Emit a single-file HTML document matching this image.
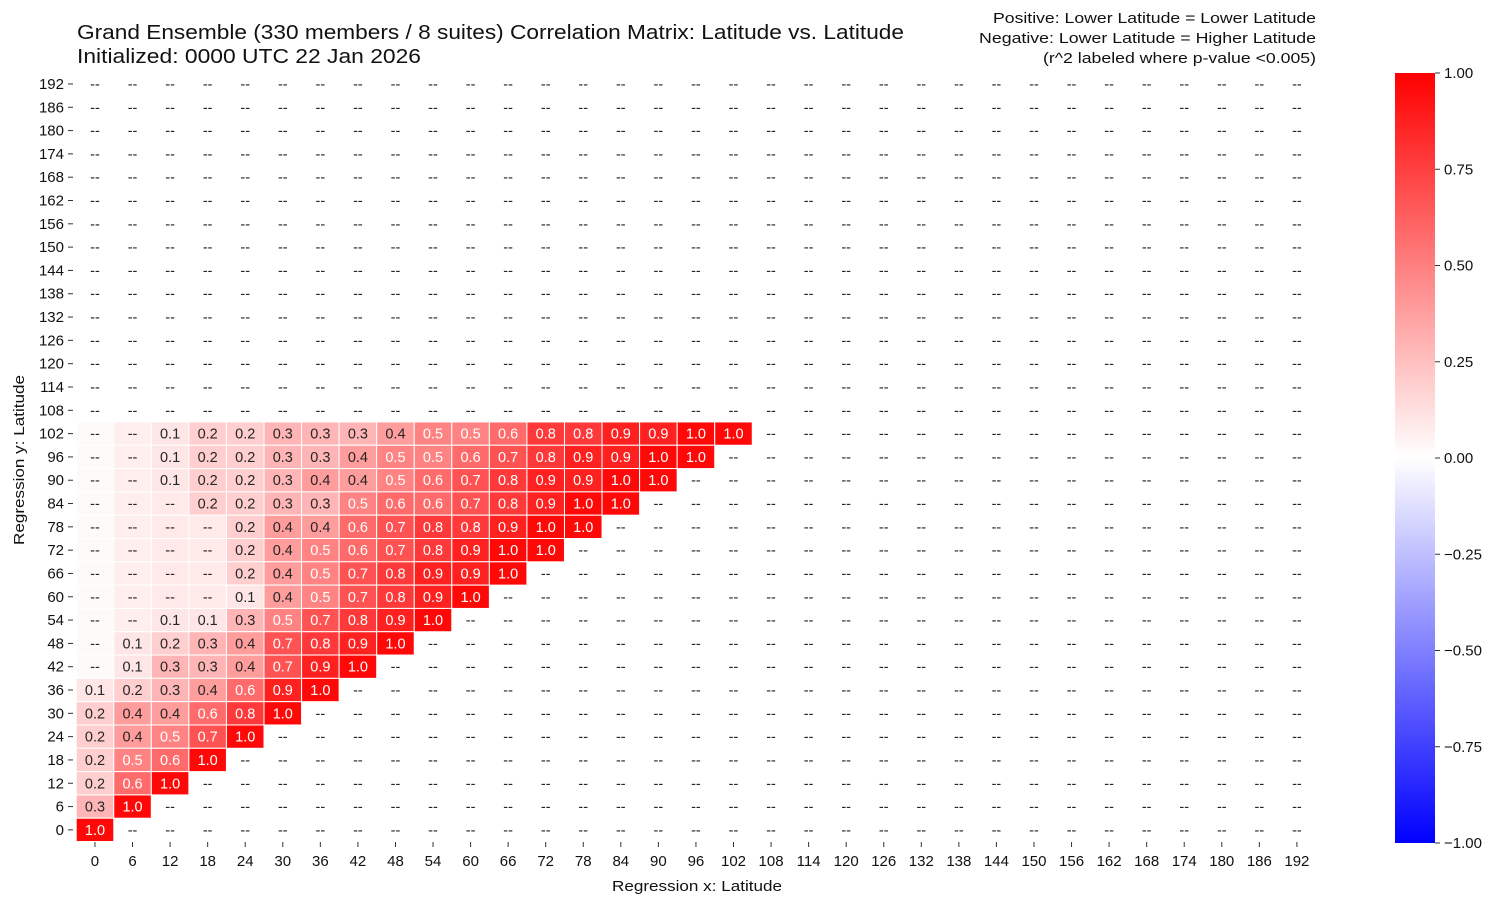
<!DOCTYPE html><html><head><meta charset="utf-8"><style>
body{margin:0;background:#fff;font-family:"Liberation Sans","DejaVu Sans",sans-serif;}
</style></head><body>
<svg id="s" width="1503" height="907" xmlns="http://www.w3.org/2000/svg" font-family="Liberation Sans, DejaVu Sans, sans-serif">
<defs><linearGradient id="g" x1="0" y1="0" x2="0" y2="1">
<stop offset="0" stop-color="#ff0000"/><stop offset="0.5" stop-color="#ffffff"/><stop offset="1" stop-color="#0000ff"/></linearGradient></defs>
<text x="77" y="39" font-size="20" fill="#111" textLength="827" lengthAdjust="spacingAndGlyphs">Grand Ensemble (330 members / 8 suites) Correlation Matrix: Latitude vs. Latitude</text>
<text x="77" y="63" font-size="20" fill="#111" textLength="344" lengthAdjust="spacingAndGlyphs">Initialized: 0000 UTC 22 Jan 2026</text>
<text x="993" y="23" font-size="14.5" fill="#111" textLength="323" lengthAdjust="spacingAndGlyphs">Positive: Lower Latitude = Lower Latitude</text>
<text x="979" y="43" font-size="14.5" fill="#111" textLength="337" lengthAdjust="spacingAndGlyphs">Negative: Lower Latitude = Higher Latitude</text>
<text x="1043" y="63" font-size="14.5" fill="#111" textLength="273" lengthAdjust="spacingAndGlyphs">(r^2 labeled where p-value &lt;0.005)</text>
<g id="cells"></g>
<text x="612" y="891" font-size="14.5" fill="#111" textLength="170" lengthAdjust="spacingAndGlyphs">Regression x: Latitude</text>
<text transform="translate(24,545) rotate(-90)" font-size="14.5" fill="#111" textLength="170" lengthAdjust="spacingAndGlyphs">Regression y: Latitude</text>
<rect x="1395" y="73" width="40" height="770" fill="url(#g)"/>
<g id="cb"></g>
</svg>
<script>
var rows={102:["--","--",.1,.2,.2,.3,.3,.3,.4,.5,.5,.6,.8,.8,.9,.9,1,1],
96:["--","--",.1,.2,.2,.3,.3,.4,.5,.5,.6,.7,.8,.9,.9,1,1],
90:["--","--",.1,.2,.2,.3,.4,.4,.5,.6,.7,.8,.9,.9,1,1],
84:["--","--","--",.2,.2,.3,.3,.5,.6,.6,.7,.8,.9,1,1],
78:["--","--","--","--",.2,.4,.4,.6,.7,.8,.8,.9,1,1],
72:["--","--","--","--",.2,.4,.5,.6,.7,.8,.9,1,1],
66:["--","--","--","--",.2,.4,.5,.7,.8,.9,.9,1],
60:["--","--","--","--",.1,.4,.5,.7,.8,.9,1],
54:["--","--",.1,.1,.3,.5,.7,.8,.9,1],
48:["--",.1,.2,.3,.4,.7,.8,.9,1],
42:["--",.1,.3,.3,.4,.7,.9,1],
36:[.1,.2,.3,.4,.6,.9,1],30:[.2,.4,.4,.6,.8,1],24:[.2,.4,.5,.7,1],18:[.2,.5,.6,1],12:[.2,.6,1],6:[.3,1],0:[1]};
var L=76.2,T=72.3,W=37.56,H=23.31,o="";
var dashv=[.02,.07,.09,.09];
for(var r=0;r<33;r++){var lat=192-6*r,y=T+r*H,cy=y+H/2+5;
o+='<text x="64" y="'+(cy)+'" font-size="15" text-anchor="end" fill="#111">'+lat+'</text><line x1="68" x2="73" y1="'+(y+H/2)+'" y2="'+(y+H/2)+'" stroke="#333"/>';
var d=rows[lat];
for(var c=0;c<33;c++){var x=L+c*W,cx=x+W/2;
if(d&&c<d.length){var v=d[c],lab,tv;if(v==="--"){lab="--";tv=dashv[Math.min(c,3)];}else{lab=v.toFixed(1);tv=v;}
var g=Math.round(255*(1-tv*0.97));
o+='<rect x="'+x+'" y="'+y+'" width="'+W+'" height="'+H+'" fill="rgb(255,'+g+','+g+')" stroke="#fff" stroke-width="1"/>';
var tc=(v!=="--"&&v>=0.5)?"#fff":"#262626";
o+='<text x="'+cx+'" y="'+cy+'" font-size="14.5" text-anchor="middle" fill="'+tc+'">'+lab+'</text>';}
else o+='<text x="'+cx+'" y="'+cy+'" font-size="14.5" text-anchor="middle" fill="#262626">--</text>';}}
for(var c=0;c<33;c++){var cx=L+c*W+W/2;o+='<line x1="'+cx+'" x2="'+cx+'" y1="842" y2="847" stroke="#333"/><text x="'+cx+'" y="866" font-size="15" text-anchor="middle" fill="#111">'+(6*c)+'</text>';}
document.getElementById("cells").innerHTML=o;
var cb="";var labs=["1.00","0.75","0.50","0.25","0.00","\u22120.25","\u22120.50","\u22120.75","\u22121.00"];
for(var i=0;i<9;i++){var y=73+i*96.25;cb+='<line x1="1435" x2="1440" y1="'+y+'" y2="'+y+'" stroke="#333"/><text x="1444" y="'+(y+5)+'" font-size="15" fill="#111">'+labs[i]+'</text>';}
document.getElementById("cb").innerHTML=cb;
</script></body></html>
